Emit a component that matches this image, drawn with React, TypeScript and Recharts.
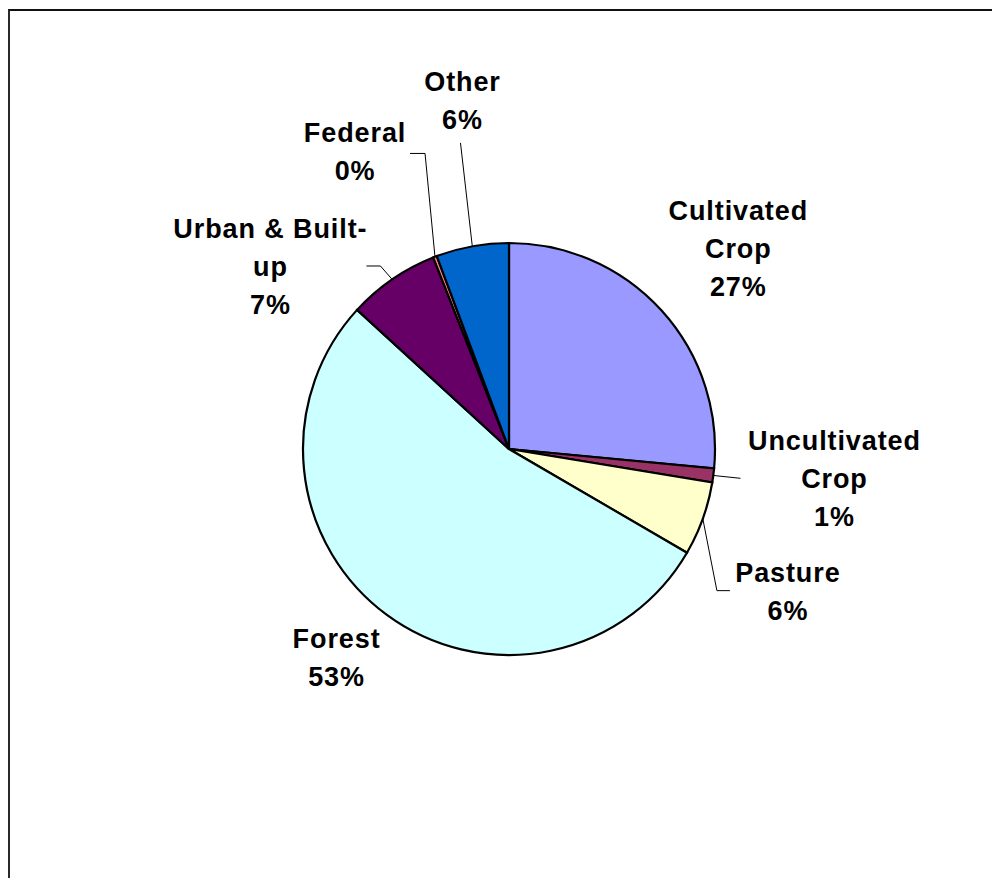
import { PieChart, Pie, Cell } from "recharts";

const categories = [
  "Cultivated Crop",
  "Uncultivated Crop",
  "Pasture",
  "Forest",
  "Urban & Built-up",
  "Federal",
  "Other",
];
const shares = [26.5, 1.1, 5.8, 53.4, 7.2, 0.3, 5.7];
const colors = ["#9999FF", "#993366", "#FFFFCC", "#CCFFFF", "#660066", "#FF8080", "#0066CC"];

// how each label is wrapped and nudged away from its slice (Excel style)
const labelLayout = [
  { lines: ["Cultivated", "Crop"], dx: 3, dy: 5, leader: [] as number[][] },
  { lines: ["Uncultivated", "Crop"], dx: 22, dy: -10, leader: [[-94, 0]] },
  { lines: ["Pasture"], dx: -9, dy: 39, leader: [[-71, -1], [-58, -1]] },
  { lines: ["Forest"], dx: 9, dy: -38, leader: [] },
  { lines: ["Urban & Built-", "up"], dx: -65, dy: 69, leader: [[110, 0], [96, 0]] },
  { lines: ["Federal"], dx: -44, dy: -12, leader: [[70, 2], [55, 2]] },
  { lines: ["Other"], dx: 8, dy: -48, leader: [[-2, 43]] },
];

const data = categories.map((name, i) => ({ name, value: shares[i] }));

const RAD = Math.PI / 180;
const FONT = 27;
const LINE_H = 38;
const LABEL_GAP = 100;

function renderLabel(props: any) {
  const { cx, cy, midAngle, outerRadius, percent, index } = props;
  const layout = labelLayout[index];
  const r = outerRadius + LABEL_GAP;
  const lx = cx + r * Math.cos(-midAngle * RAD) + layout.dx;
  const ly = cy + r * Math.sin(-midAngle * RAD) + layout.dy;
  const lines = [...layout.lines, `${Math.round(percent * 100)}%`];
  const top = ly - ((lines.length - 1) * LINE_H) / 2;

  let leader = null;
  if (layout.leader.length) {
    const ex = cx + outerRadius * Math.cos(-midAngle * RAD);
    const ey = cy + outerRadius * Math.sin(-midAngle * RAD);
    const pts = [[ex, ey], ...layout.leader.map(([ox, oy]) => [lx + ox, ly + oy])];
    leader = (
      <polyline
        points={pts.map((p) => p.join(",")).join(" ")}
        fill="none"
        stroke="#000"
        strokeWidth={1}
      />
    );
  }

  return (
    <g key={`lbl-${index}`}>
      {leader}
      {lines.map((t, i) => (
        <text
          key={i}
          x={lx}
          y={top + i * LINE_H + FONT * 0.36}
          textAnchor="middle"
          fill="#000"
          style={{
            fontFamily: '"Liberation Sans", Arial, sans-serif',
            fontWeight: 700,
            fontSize: FONT,
            letterSpacing: 0.9,
          }}
        >
          {t}
        </text>
      ))}
    </g>
  );
}

export default function App() {
  return (
    <div style={{ position: "relative", width: 992, height: 870, overflow: "hidden" }}>
      <div
        style={{
          position: "absolute",
          left: 0,
          top: 1,
          width: 1200,
          height: 1000,
          boxSizing: "border-box",
          borderTop: "2px solid #111",
          borderLeft: "2px solid #2a2a2a",
        }}
      />
      <div style={{ position: "absolute", left: 0, top: 0 }}>
        <PieChart width={992} height={870}>
          <Pie
            data={data}
            dataKey="value"
            nameKey="name"
            cx={496}
            cy={436}
            outerRadius={206}
            startAngle={90}
            endAngle={-270}
            stroke="#000"
            strokeWidth={2.2}
            labelLine={false}
            label={renderLabel}
            isAnimationActive={false}
          >
            {data.map((d, i) => (
              <Cell key={d.name} fill={colors[i]} />
            ))}
          </Pie>
        </PieChart>
      </div>
    </div>
  );
}
